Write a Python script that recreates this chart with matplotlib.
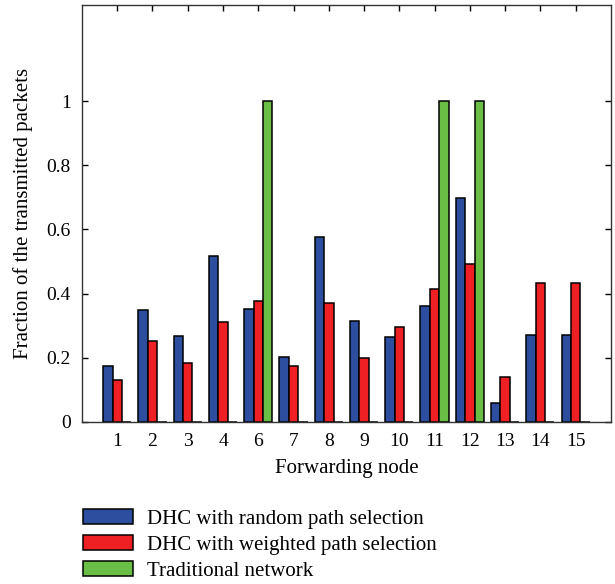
import numpy as np
import matplotlib.pyplot as plt

plt.rcParams['font.family'] = ['Liberation Serif', 'DejaVu Serif']

# forwarding nodes (node 5 is not shown in the original)
nodes = ['1', '2', '3', '4', '6', '7', '8', '9', '10', '11', '12', '13', '14', '15']
dhc_random = [0.174, 0.349, 0.268, 0.518, 0.352, 0.202, 0.575, 0.314, 0.264, 0.361, 0.699, 0.057, 0.269, 0.269]
dhc_weighted = [0.129, 0.252, 0.183, 0.311, 0.376, 0.174, 0.371, 0.198, 0.295, 0.413, 0.492, 0.140, 0.432, 0.432]
traditional = [0, 0, 0, 0, 1, 0, 0, 0, 0, 1, 1, 0, 0, 0]

series = [dhc_random, dhc_weighted, traditional]
names = ['DHC with random path selection', 'DHC with weighted path selection', 'Traditional network']
colors = ['#2D4E9F', '#EE2024', '#6ABD45']

fig = plt.figure(figsize=(6.15, 5.84), dpi=100)
ax = fig.add_axes([0.1333, 0.278, 0.86, 0.713])
ax.set_axisbelow(True)

x = np.arange(1, len(nodes) + 1)
w = 0.8 / 3
for k in range(3):
    ax.bar(x + (k - 1) * w, series[k], w, color=colors[k], edgecolor='black',
           linewidth=1.1, label=names[k])

ax.set_xlim(0, 15)
ax.set_ylim(0, 1.3)
ax.set_xticks(x)
ax.set_xticklabels(nodes)
ax.set_yticks([0, 0.2, 0.4, 0.6, 0.8, 1.0])
ax.set_yticklabels(['0', '0.2', '0.4', '0.6', '0.8', '1'])
ax.tick_params(direction='in', top=True, right=True, labelsize=14, length=4, width=1, pad=8)
for s in ax.spines.values():
    s.set_linewidth(1.0)
    s.set_color('#333333')

ax.set_xlabel('Forwarding node', fontsize=15, labelpad=7)
ax.set_ylabel('Fraction of the transmitted packets', fontsize=15, labelpad=10)

fig.legend(loc='upper left', bbox_to_anchor=(0.118, 0.146), frameon=False, fontsize=15,
           handlelength=2.4, handleheight=0.75, labelspacing=0.28, handletextpad=0.65,
           borderpad=0)

fig.savefig('out.png', dpi=100)
